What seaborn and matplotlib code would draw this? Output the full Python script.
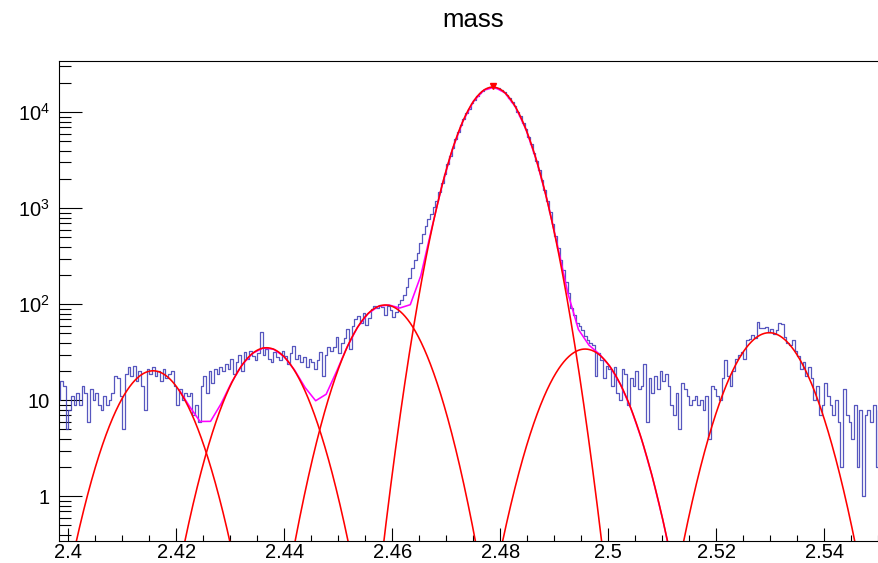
import numpy as np
import pandas as pd
import matplotlib
matplotlib.use("Agg")
import matplotlib.pyplot as plt
import seaborn as sns
from matplotlib.ticker import FixedLocator, FixedFormatter, NullFormatter

# ---- histogram of the invariant mass (bin contents) ----
bin_lo = 2.398
bin_width = 0.0005
counts = [
    10, 16, 14, 5, 8, 11, 9, 12, 9, 14,
    12, 6, 13, 10, 12, 9, 8, 11, 9, 10,
    12, 18, 17, 11, 5, 19, 22, 18, 23, 16,
    20, 14, 8, 21, 19, 22, 18, 20, 16, 21,
    17, 19, 20, 14, 9, 13, 10, 12, 11, 12,
    7, 9, 6, 14, 18, 12, 20, 15, 21, 19,
    22, 20, 24, 21, 27, 19, 25, 30, 20, 32,
    27, 33, 29, 26, 31, 52, 30, 34, 27, 25,
    32, 28, 26, 33, 29, 24, 31, 37, 27, 30,
    25, 28, 22, 27, 25, 21, 26, 32, 18, 30,
    36, 33, 36, 46, 31, 40, 45, 55, 34, 60,
    70, 76, 64, 82, 61, 72, 90, 97, 92, 98,
    94, 77, 96, 88, 73, 84, 101, 112, 125, 150,
    190, 240, 290, 340, 430, 540, 650, 770, 880, 1030,
    1200, 1480, 1830, 2300, 2870, 3540, 4290, 5240, 6180, 7360,
    8480, 9780, 10950, 12350, 13500, 14760, 15720, 16750, 17380, 17990,
    18200, 18310, 18050, 17700, 16950, 16230, 15100, 14080, 12750, 11580,
    10190, 9050, 7730, 6690, 5560, 4700, 3790, 3120, 2480, 1970,
    1540, 1190, 910, 690, 520, 390, 290, 230, 170, 130,
    92, 78, 64, 60, 54, 47, 42, 40, 38, 18,
    31, 26, 17, 23, 21, 14, 22, 12, 10, 21,
    19, 9, 17, 14, 20, 13, 14, 24, 6, 17,
    12, 18, 13, 20, 16, 19, 14, 9, 7, 12,
    5, 15, 13, 11, 9, 10, 11, 9, 10, 8,
    11, 4, 14, 13, 11, 10, 17, 26, 18, 14,
    20, 27, 30, 32, 27, 43, 44, 48, 45, 66,
    57, 56, 58, 51, 55, 49, 54, 64, 62, 46,
    40, 38, 42, 33, 29, 21, 25, 18, 22, 17,
    10, 14, 7, 9, 15, 11, 9, 7, 10, 6,
    2, 13, 7, 6, 4, 9, 2, 8, 1, 7,
    8, 6, 9, 2, 8,
]

# ---- fitted Gaussian components: amplitude, mean, sigma ----
comp_amp = [20.3, 35.3, 98.4, 18300.0, 34.2, 50.6]
comp_mean = [2.4157, 2.4367, 2.4587, 2.4786, 2.4957, 2.5298]
comp_sigma = [0.00497, 0.00496, 0.00496, 0.00432, 0.00503, 0.00501]

# total fit function (sum of the first five components) and its sampling
total_lo, total_hi, total_npx = 2.4205, 2.5120, 48

# marker at the maximum
peak_x, peak_y = 2.4786, 18900

x_ticks = [2.40, 2.42, 2.44, 2.46, 2.48, 2.50, 2.52, 2.54]
y_ticks = [1, 10, 100, 1000, 10000]
y_tick_labels = ["1", "10", "$10^{2}$", "$10^{3}$", "$10^{4}$"]

# ---------------------------------------------------------------
sns.set_style("ticks")
plt.rcParams["font.family"] = ["Liberation Sans", "DejaVu Sans"]
plt.rcParams["mathtext.default"] = "regular"
plt.rcParams["text.color"] = "black"
plt.rcParams["xtick.color"] = "black"
plt.rcParams["ytick.color"] = "black"

n_bins = len(counts)
edges = bin_lo + bin_width * np.arange(n_bins + 1)
centers = 0.5 * (edges[:-1] + edges[1:])
hist_df = pd.DataFrame({"mass": centers, "entries": counts})


def gauss(x, a, m, s):
    return a * np.exp(-0.5 * ((x - m) / s) ** 2)


fig = plt.figure(figsize=(8.79, 5.63), dpi=100)
ax = fig.add_axes([59 / 879, 1 - 540.7 / 563, 820 / 879, 480 / 563])

sns.histplot(data=hist_df, x="mass", weights="entries",
             binwidth=bin_width, binrange=(edges[0], edges[-1]),
             element="step", fill=False, color="#3a3ab4", linewidth=0.9,
             alpha=0.85, ax=ax)

# total fit
xt = np.linspace(total_lo, total_hi, total_npx)
yt = sum(gauss(xt, a, m, s) for a, m, s in
         zip(comp_amp[:5], comp_mean[:5], comp_sigma[:5]))
sns.lineplot(x=xt, y=yt, color="#ff00ff", linewidth=1.15, sort=False,
             estimator=None, ax=ax)

# individual components
xf = np.linspace(2.396, 2.552, 3000)
for a, m, s in zip(comp_amp, comp_mean, comp_sigma):
    yf = np.clip(gauss(xf, a, m, s), 1e-3, None)
    sns.lineplot(x=xf, y=yf, color="#ff0000", linewidth=1.15, sort=False,
                 estimator=None, ax=ax)

ax.plot([peak_x], [peak_y], marker="v", color="#ff0000", markersize=5,
        linestyle="none")

ax.set_yscale("log")
ax.set_xlim(2.39828, 2.55013)
ax.set_ylim(0.345, 34470)
ax.set_xlabel("")
ax.set_ylabel("")

ax.xaxis.set_major_locator(FixedLocator(x_ticks))
ax.xaxis.set_major_formatter(FixedFormatter([f"{v:g}" for v in x_ticks]))
ax.xaxis.set_minor_locator(FixedLocator(np.arange(2.395, 2.5526, 0.005)))
ax.xaxis.set_minor_formatter(NullFormatter())

ax.yaxis.set_major_locator(FixedLocator(y_ticks))
ax.yaxis.set_major_formatter(FixedFormatter(y_tick_labels))
y_minor = [k * 10.0 ** e for e in range(-1, 5) for k in range(2, 10)]
ax.yaxis.set_minor_locator(FixedLocator(y_minor))
ax.yaxis.set_minor_formatter(NullFormatter())

ax.tick_params(axis="x", which="major", direction="in", length=9.4,
               width=0.8, pad=1.5, labelsize=14.5, top=False,
               colors="black")
ax.tick_params(axis="x", which="minor", direction="in", length=4.3,
               width=0.8, top=False, colors="black")
ax.tick_params(axis="y", which="major", direction="in", length=16.5,
               width=0.8, pad=6.5, labelsize=14.5, right=False,
               colors="black")
ax.tick_params(axis="y", which="minor", direction="in", length=8.6,
               width=0.8, right=False, colors="black")

for side in ["left", "bottom", "top"]:
    ax.spines[side].set_visible(True)
    ax.spines[side].set_color("black")
    ax.spines[side].set_linewidth(0.8)
ax.spines["right"].set_visible(False)

fig.text(473 / 879, 1 - 27.3 / 563, "mass", ha="center", va="baseline",
         fontsize=18.5, color="black")

fig.savefig("out.png", dpi=100)
